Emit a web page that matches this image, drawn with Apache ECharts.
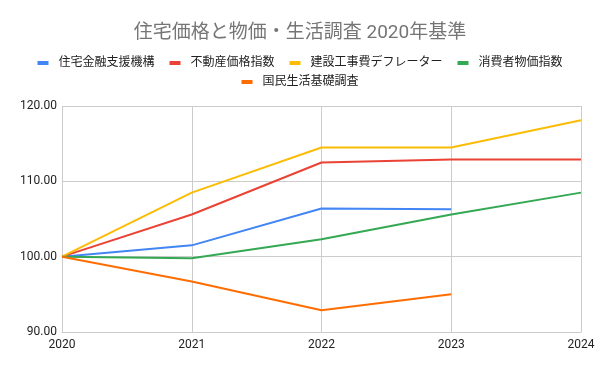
<!DOCTYPE html>
<html><head><meta charset="utf-8">
<script src="https://cdn.jsdelivr.net/npm/echarts@6/dist/echarts.min.js"></script>
<style>html,body{margin:0;padding:0;background:#fff}#c{width:600px;height:371px}</style>
</head><body><div id="c"></div>
<script>
const titleText = '住宅価格と物価・生活調査 2020年基準';
const years = ['2020', '2021', '2022', '2023', '2024'];
const seriesNames = ['住宅金融支援機構', '不動産価格指数', '建設工事費デフレーター', '消費者物価指数', '国民生活基礎調査'];
const jhf = [100, 101.5, 106.4, 106.3, null];
const realEstate = [100, 105.6, 112.5, 112.9, 112.9];
const construction = [100, 108.5, 114.5, 114.5, 118.1];
const cpi = [100, 99.8, 102.3, 105.6, 108.5];
const livingSurvey = [100, 96.7, 92.9, 95.0, null];
const colors = ['#4285F4', '#EA4335', '#FBBC04', '#34A853', '#FF6D01'];
const values = [jhf, realEstate, construction, cpi, livingSurvey];

const FONT = "Roboto, 'Noto Sans CJK JP', sans-serif";
const chart = echarts.init(document.getElementById('c'));
const legendCommon = {
  icon: 'rect', itemWidth: 11, itemHeight: 4, itemGap: 15,
  textStyle: { fontFamily: FONT, fontSize: 12, color: '#222', padding: [0, 0, 0, 5] }
};
chart.setOption({
  animation: false,
  color: colors,
  title: {
    text: titleText, left: 'center', top: 19,
    textStyle: { fontFamily: FONT, fontSize: 19, fontWeight: 'normal', color: '#757575' }
  },
  legend: [
    Object.assign({ data: seriesNames.slice(0, 4), left: 'center', top: 52 }, legendCommon),
    Object.assign({ data: seriesNames.slice(4), left: 'center', top: 71 }, legendCommon)
  ],
  grid: { left: 62, right: 19, top: 106, bottom: 39, containLabel: false },
  xAxis: {
    type: 'category', data: years, boundaryGap: false,
    axisLine: { show: true, lineStyle: { color: '#ccc' } },
    axisTick: { show: false },
    axisLabel: { color: '#222', fontFamily: FONT, fontSize: 12, margin: 7 },
    splitLine: { show: true, lineStyle: { color: '#ccc' } }
  },
  yAxis: {
    type: 'value', min: 90, max: 120, interval: 10,
    axisLine: { show: false }, axisTick: { show: false },
    axisLabel: { color: '#222', fontFamily: FONT, fontSize: 12, margin: 5, formatter: v => v.toFixed(2) },
    splitLine: { lineStyle: { color: '#ccc' } }
  },
  series: seriesNames.map((n, i) => ({
    name: n, type: 'line', data: values[i], showSymbol: false, symbol: 'none',
    lineStyle: { width: 2, color: colors[i] }, itemStyle: { color: colors[i] }
  }))
});
</script></body></html>
